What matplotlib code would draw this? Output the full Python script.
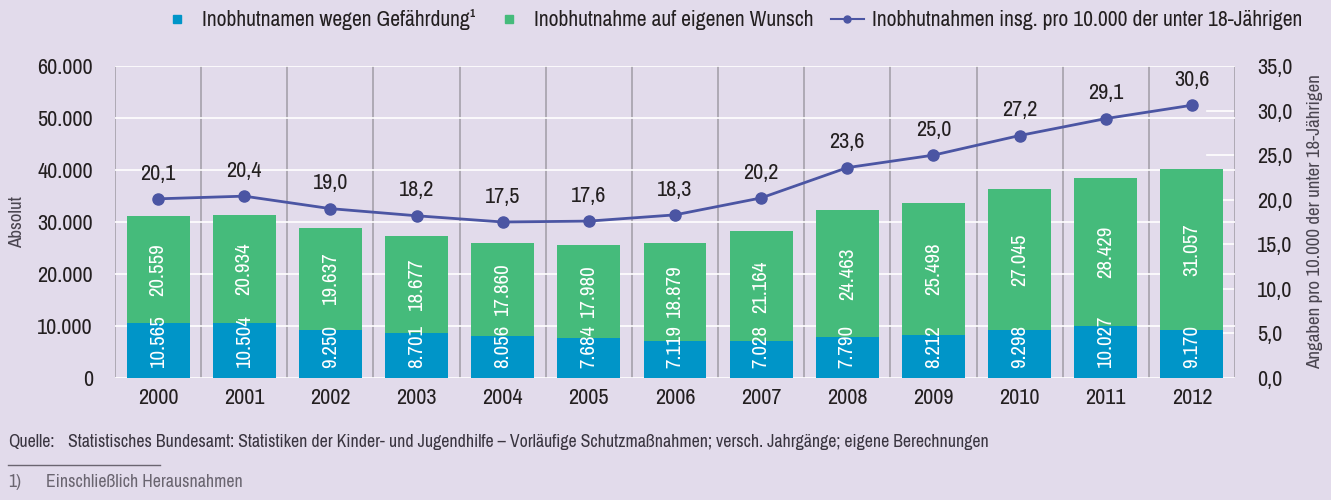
import numpy as np
import matplotlib
matplotlib.use('Agg')
from matplotlib import pyplot as plt
from matplotlib.lines import Line2D
from matplotlib.ticker import FuncFormatter

plt.rcParams['font.family'] = ['Archivo Narrow', 'DejaVu Sans']

# Daten
years = ['2000', '2001', '2002', '2003', '2004', '2005', '2006',
         '2007', '2008', '2009', '2010', '2011', '2012']
gefaehrdung = [10565, 10504, 9250, 8701, 8056, 7684, 7119,
               7028, 7790, 8212, 9298, 10027, 9170]
wunsch = [20559, 20934, 19637, 18677, 17860, 17980, 18879,
          21164, 24463, 25498, 27045, 28429, 31057]
quote = [20.1, 20.4, 19.0, 18.2, 17.5, 17.6, 18.3,
         20.2, 23.6, 25.0, 27.2, 29.1, 30.6]

left_ticks = [0, 10000, 20000, 30000, 40000, 50000, 60000]
right_ticks = [0, 5, 10, 15, 20, 25, 30, 35]

bg = '#e2dbeb'
blue = '#0095c8'
green = '#45bb7b'
navy = '#4b55a3'
dark = '#231f20'
vgray = '#aaa5b0'

fs_tick = 16
fs_bar = 15
fs_leg = 15.6
fs_axlab = 13.7
fs_small = 12.8


def de_int(v, pos=None):
    return '{:,.0f}'.format(v).replace(',', '.')


def de_dec(v, pos=None):
    return '{:.1f}'.format(v).replace('.', ',')


fig = plt.figure(figsize=(13.31, 5.0), dpi=100, facecolor=bg)
ax = fig.add_axes([115 / 1331, 122 / 500, 1120 / 1331, 312 / 500])
ax.set_facecolor(bg)

x = np.arange(len(years))
ax.bar(x, gefaehrdung, width=0.73, color=blue, zorder=3)
ax.bar(x, wunsch, width=0.73, bottom=gefaehrdung, color=green, zorder=3)

# senkrechte Werte in den Balken
for i in range(len(years)):
    ax.annotate(de_int(gefaehrdung[i]), (x[i], 0), xytext=(0, 7),
                textcoords='offset points', rotation=90, ha='center',
                va='bottom', color='white', fontsize=fs_bar, zorder=5)
    ax.text(x[i], gefaehrdung[i] + wunsch[i] / 2, de_int(wunsch[i]),
            rotation=90, ha='center', va='center', color='white',
            fontsize=fs_bar, zorder=5)

ax.set_xlim(-0.5, len(years) - 0.5)
ax.set_ylim(0, 60000)
ax.set_yticks(left_ticks)
ax.yaxis.set_major_formatter(FuncFormatter(de_int))
ax.set_xticks(x)
ax.set_xticklabels(years)
ax.tick_params(length=0, labelsize=fs_tick, colors=dark)
ax.tick_params(axis='y', pad=16)
ax.tick_params(axis='x', pad=7)
ax.grid(axis='y', color='white', linewidth=1.2, zorder=0)
for b in np.arange(len(years) + 1) - 0.5:
    ax.axvline(b, color=vgray, linewidth=1.3, zorder=1)
for s in ax.spines.values():
    s.set_visible(False)
ax.set_ylabel('Absolut', fontsize=fs_axlab, color='#4a4550')
ax.yaxis.set_label_coords(-0.08, 0.5)

# kleine Rasterreste der rechten Achse
for v in right_ticks[1:-1]:
    ax.plot([12.18, 12.5], [v * 60000 / 35] * 2, color='white',
            linewidth=1.2, zorder=0.5)

# Quote auf rechter Achse
ax2 = ax.twinx()
ax2.plot(x, quote, color=navy, linewidth=2, marker='o', markersize=8, zorder=4)
for i in range(len(years)):
    ax2.annotate(de_dec(quote[i]), (x[i], quote[i]), xytext=(0, 11),
                 textcoords='offset points', ha='center', va='bottom',
                 fontsize=fs_tick, color=dark)
ax2.set_ylim(0, 35)
ax2.set_yticks(right_ticks)
ax2.yaxis.set_major_formatter(FuncFormatter(de_dec))
ax2.tick_params(length=0, labelsize=fs_tick, colors=dark, pad=16)
for s in ax2.spines.values():
    s.set_visible(False)
ax2.set_ylabel('Angaben pro 10.000 der unter 18-Jährigen', fontsize=fs_axlab,
               color='#4a4550')
ax2.yaxis.set_label_coords(1.064, 0.5)

# Legende
handles = [
    Line2D([], [], marker='s', linestyle='none', color=blue, markersize=6),
    Line2D([], [], marker='s', linestyle='none', color=green, markersize=6),
    Line2D([], [], marker='o', color=navy, linewidth=1.5, markersize=5),
]
labels = ['Inobhutnamen wegen Gefährdung¹', 'Inobhutnahme auf eigenen Wunsch',
          'Inobhutnahmen insg. pro 10.000 der unter 18-Jährigen']
fig.legend(handles, labels, loc='upper right', bbox_to_anchor=(1322 / 1331, 1.02),
           ncol=3, frameon=False, fontsize=fs_leg, handlelength=1.5,
           handletextpad=0.4, columnspacing=0.8, labelcolor=dark)

# Quelle und Fußnote
fig.text(8 / 1331, 1 - 442 / 500, 'Quelle:', fontsize=fs_small, color='#3a3540', va='center')
fig.text(68 / 1331, 1 - 442 / 500,
         'Statistisches Bundesamt: Statistiken der Kinder- und Jugendhilfe – '
         'Vorläufige Schutzmaßnahmen; versch. Jahrgänge; eigene Berechnungen',
         fontsize=fs_small, color='#3a3540', va='center')
fig.add_artist(Line2D([8 / 1331, 160 / 1331], [1 - 465 / 500] * 2,
                      color='#6a6570', linewidth=1))
fig.text(8 / 1331, 1 - 482 / 500, '1)', fontsize=fs_small, color='#6a6570', va='center')
fig.text(46 / 1331, 1 - 482 / 500, 'Einschließlich Herausnahmen',
         fontsize=fs_small, color='#6a6570', va='center')

fig.savefig('out.png', dpi=100, facecolor=bg)
